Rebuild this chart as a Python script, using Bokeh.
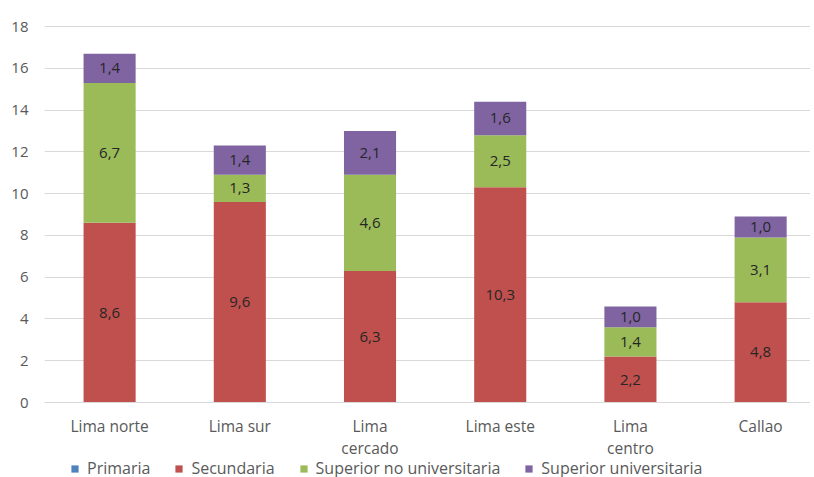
from bokeh.plotting import figure
from bokeh.layouts import column
from bokeh.models import ColumnDataSource, Range1d, FixedTicker, Legend, LegendItem
from bokeh.core.properties import value
from bokeh.embed import file_html
from bokeh.resources import INLINE

categories = ["Lima norte", "Lima sur", "Lima\ncercado", "Lima este", "Lima\ncentro", "Callao"]
primaria = [0, 0, 0, 0, 0, 0]
secundaria = [8.6, 9.6, 6.3, 10.3, 2.2, 4.8]
sup_no_univ = [6.7, 1.3, 4.6, 2.5, 1.4, 3.1]
sup_univ = [1.4, 1.4, 2.1, 1.6, 1.0, 1.0]
series_names = ["Primaria", "Secundaria", "Superior no universitaria", "Superior universitaria"]
colors = ["#4f81bd", "#c0504d", "#9bbb59", "#8064a2"]
y_ticks = [0, 2, 4, 6, 8, 10, 12, 14, 16, 18]

FONT = "Open Sans"
xs = list(range(len(categories)))
keys = ["primaria", "secundaria", "sup_no_univ", "sup_univ"]
source = ColumnDataSource(dict(x=xs, primaria=primaria, secundaria=secundaria,
                               sup_no_univ=sup_no_univ, sup_univ=sup_univ))

p = figure(frame_width=766, frame_height=386, output_backend="svg", toolbar_location=None,
           x_range=Range1d(-0.5, 5.383), y_range=Range1d(0, 18.48),
           min_border_left=44, min_border_right=0, min_border_top=16, min_border_bottom=0)
p.outline_line_color = None
p.background_fill_color = "white"

p.vbar_stack(keys, x="x", width=0.4, color=colors, line_color=None, source=source)

# value labels
lx, ly, lt = [], [], []
for i in xs:
    base = primaria[i]
    for vals in (secundaria, sup_no_univ, sup_univ):
        v = vals[i]
        lx.append(i)
        ly.append(base + v / 2)
        lt.append(f"{v:.1f}".replace(".", ","))
        base += v
p.text(x=lx, y=ly, text=lt, text_align="center", text_baseline="middle",
       text_font=value(FONT), text_font_size="15px", text_color="#262626")

# axes
p.yaxis.ticker = FixedTicker(ticks=y_ticks)
p.yaxis.axis_line_color = None
p.yaxis.major_tick_line_color = None
p.yaxis.minor_tick_line_color = None
p.yaxis.major_label_text_font = FONT
p.yaxis.major_label_text_font_size = "15px"
p.yaxis.major_label_text_color = "#595959"
p.yaxis.major_label_standoff = 10

p.xaxis.ticker = FixedTicker(ticks=xs)
p.xaxis.major_label_overrides = {i: c for i, c in zip(xs, categories)}
p.xaxis.axis_line_color = "#d9d9d9"
p.xaxis.major_tick_line_color = None
p.xaxis.minor_tick_line_color = None
p.xaxis.major_label_text_font = FONT
p.xaxis.major_label_text_font_size = "15.5px"
p.xaxis.major_label_text_color = "#595959"
p.xaxis.major_label_text_line_height = 1.0
p.xaxis.major_label_standoff = 6

p.xgrid.grid_line_color = None
p.ygrid.grid_line_color = "#d9d9d9"

# legend strip under the chart
lg = figure(width=810, height=24, output_backend="svg", toolbar_location=None,
            x_range=Range1d(0, 1), y_range=Range1d(0, 1),
            x_axis_location=None, y_axis_location=None,
            min_border_left=0, min_border_right=0, min_border_top=0, min_border_bottom=0)
lg.outline_line_color = None
lg.xgrid.grid_line_color = None
lg.ygrid.grid_line_color = None
items = []
for name, c in zip(series_names, colors):
    # legend-only swatch renderer, placed outside the visible range
    r = lg.vbar(x=[10], top=[10], bottom=[9], width=0.1, fill_color=c, line_color=None)
    items.append(LegendItem(label=name, renderers=[r]))
legend = Legend(items=items, orientation="horizontal", location=(26, 6))
legend.border_line_color = None
legend.background_fill_alpha = 0
legend.padding = 0
legend.margin = 0
legend.glyph_width = 9
legend.glyph_height = 9
legend.label_standoff = 8
legend.spacing = 24
legend.label_height = 16
legend.label_text_font = FONT
legend.label_text_font_size = "16px"
legend.label_text_color = "#595959"
lg.add_layout(legend, "center")

open("out.html", "w").write(file_html(column(p, lg, spacing=0), INLINE))
